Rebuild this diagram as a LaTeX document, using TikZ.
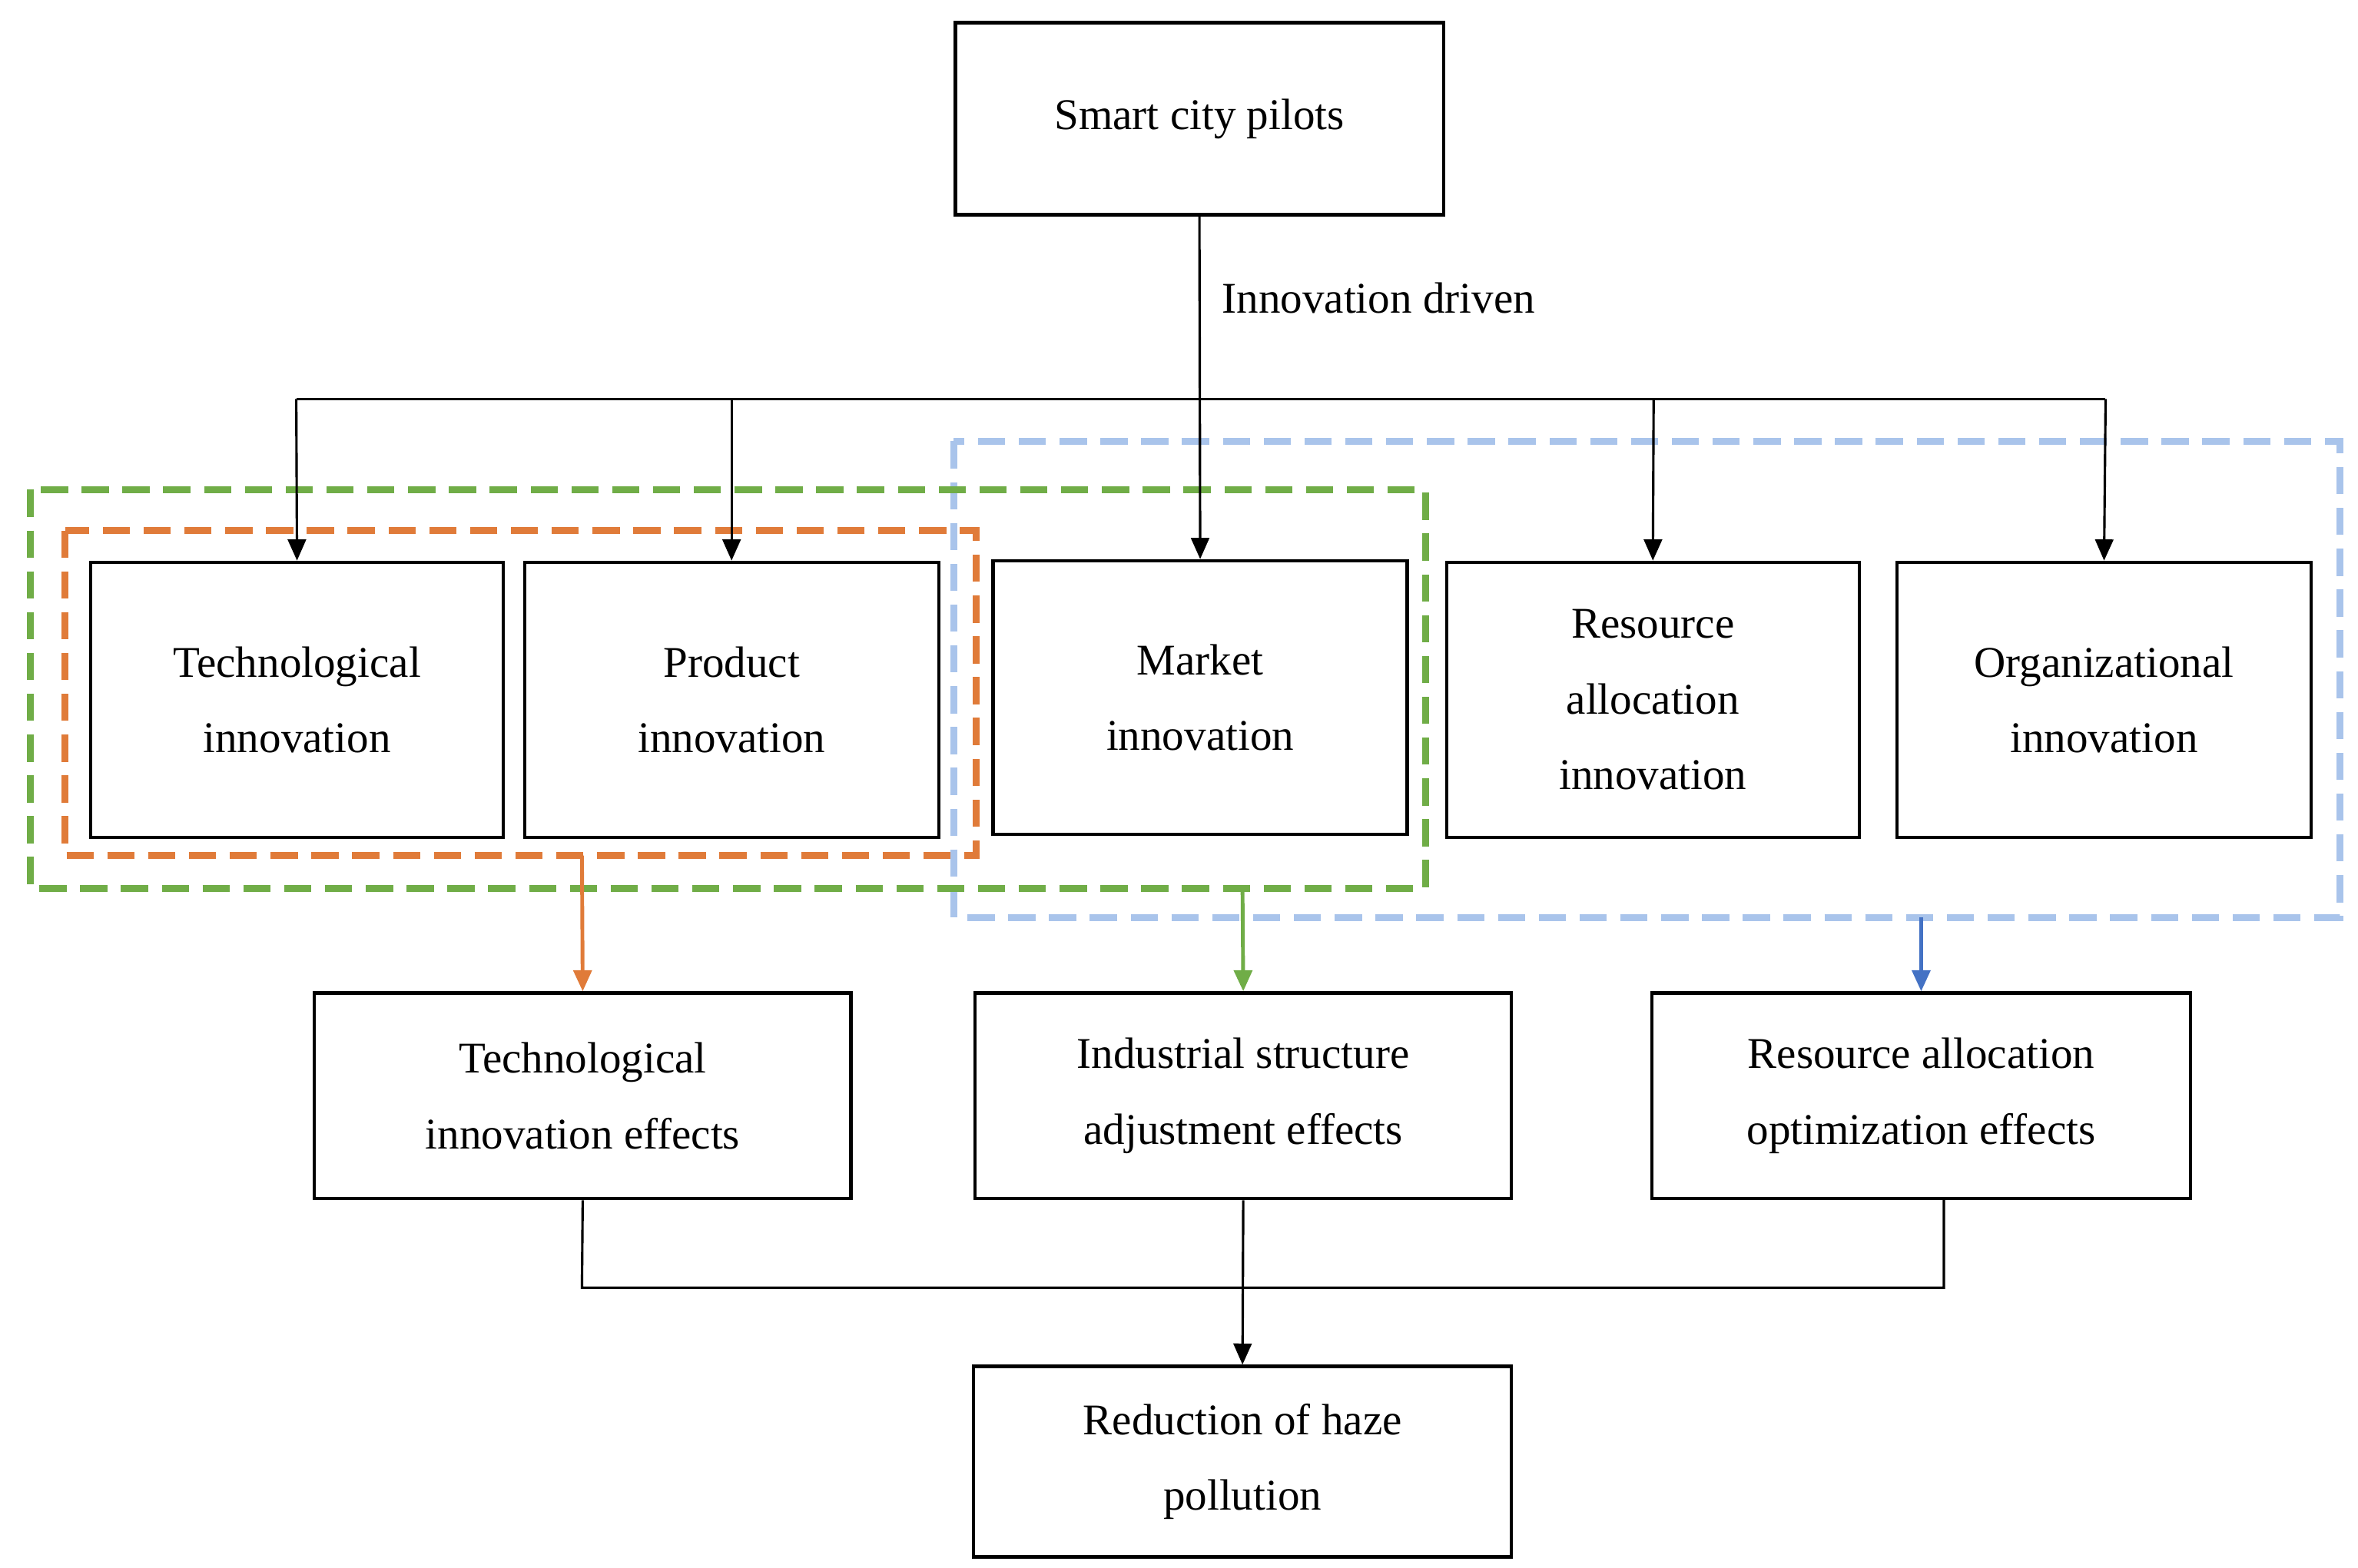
\documentclass[tikz,border=0pt]{standalone}
\usepackage{fontspec}
\setmainfont{Liberation Serif}
\usetikzlibrary{arrows.meta}
\definecolor{myor}{HTML}{E07B39}
\definecolor{mygr}{HTML}{70AD47}
\definecolor{mybl}{HTML}{A9C4EB}
\definecolor{mydb}{HTML}{4472C4}
\begin{document}
\begin{tikzpicture}[x=1pt,y=-1pt,
  bx/.style={draw,line width=2.2pt,align=center,inner sep=0pt,font=\fontsize{29}{50}\selectfont},
  ln/.style={line width=1.6pt},
  ar/.style={ln,-{Triangle[length=14pt,width=12pt]}},
  dsh/.style={line width=4.5pt,dash pattern=on 18pt off 9pt}]
\useasboundingbox (0,0) rectangle (1560,1037);
\newcommand{\bxat}[6]{\node[bx,minimum width=#3-#2,minimum height=#5-#4] (#1) at ({(#2+#3)/2},{(#4+#5)/2}) {#6};}
\bxat{sc}{632}{955}{15}{142}{Smart city pilots}
\bxat{ti}{60}{333}{372}{554}{Technological\\innovation}
\bxat{pi}{347}{621}{372}{554}{Product\\innovation}
\bxat{mi}{657}{931}{371}{552}{Market\\innovation}
\bxat{ri}{957}{1230}{372}{554}{Resource\\allocation\\innovation}
\bxat{oi}{1255}{1529}{372}{554}{Organizational\\innovation}
\bxat{te}{208}{563}{657}{793}{Technological\\innovation effects}
\bxat{ie}{645}{1000}{657}{793}{Industrial structure\\adjustment effects}
\bxat{re}{1093}{1449}{657}{793}{Resource allocation\\optimization effects}
\bxat{rh}{644}{1000}{904}{1030}{Reduction of haze\\pollution}
\node[font=\fontsize{29}{50}\selectfont,anchor=west] (lab) at (805,197) {Innovation driven};
% dashed groups
\draw[dsh,mybl] (631,292) rectangle (1548,607);
\draw[dsh,mygr] (20,324) rectangle (943,588);
\draw[dsh,myor] (43,351) rectangle (646,566);
\coordinate (hl) at (196,264); \coordinate (hr) at (1393,264);
\draw[ln] (hl) -- (hr);
\draw[ar] (sc.south) -- (mi.north);
\draw[ar] (hl) -- (ti.north);
\draw[ar] (484,264) -- (pi.north);
\draw[ar] (1094,264) -- (ri.north);
\draw[ar] (hr) -- (oi.north);
\coordinate (og) at (385,566); \coordinate (gg) at (822,588); \coordinate (bg) at (1271,607);
\draw[ar,myor,line width=2.5pt] (og) -- (te.north);
\draw[ar,mygr,line width=2.5pt] (gg) -- (ie.north);
\draw[ar,mydb,line width=2.5pt] (bg) -- (re.north);
\draw[ln] (te.south) -- (385,852) -- (1286,852) -- (1286,793);
\draw[ar] (ie.south) -- (rh.north);
\end{tikzpicture}
\end{document}
